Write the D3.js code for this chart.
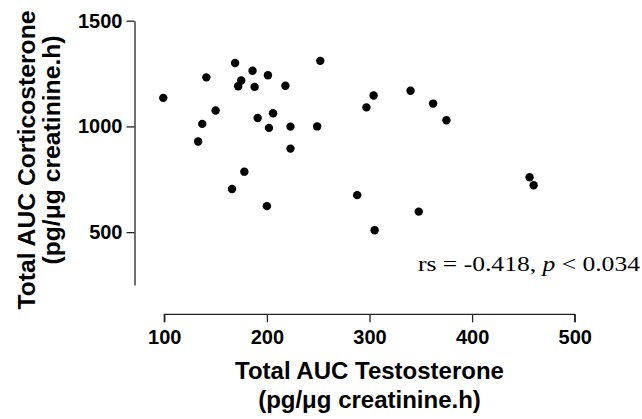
<!DOCTYPE html>
<html>
<head>
<meta charset="utf-8">
<script src="https://cdn.jsdelivr.net/npm/d3@7"></script>
<style>
  body { margin: 0; background: #fff; }
  svg { display: block; }
</style>
</head>
<body>
<svg id="chart" width="642" height="419"></svg>
<script>
// Total AUC testosterone (x) against total AUC corticosterone (y), one point per animal
const testosterone = [
  99, 141, 169, 186, 201, 175, 172, 188, 218, 252,
  304, 297, 150, 137, 133, 191, 206, 202, 223, 249,
  223, 178, 166, 200, 288, 305, 340, 362, 375, 456,
  460, 348
]
const corticosterone = [
  1135, 1232, 1300, 1263, 1242, 1217, 1190, 1187, 1192, 1310,
  1146, 1090, 1075, 1012, 929, 1040, 1062, 993, 999, 1000,
  895, 786, 704, 623, 675, 509, 1169, 1108, 1029, 760,
  722, 597
]
const xTicks = [100, 200, 300, 400, 500]
const yTicks = [500, 1000, 1500]
const xTitle = ['Total AUC Testosterone', '(pg/\u03bcg creatinine.h)']
const yTitle = ['Total AUC Corticosterone', '(pg/\u03bcg creatinine.h)']

const svg = d3.select('#chart')
const sans = 'Liberation Sans, Arial, sans-serif'

// Scales: the two axes are offset from each other, as in the original figure
const x = d3.scaleLinear().domain([100, 500]).range([164.3, 574.7])
const y = d3.scaleLinear().domain([250, 1500]).range([285, 20.7])

// Left axis
const yAxis = svg.append('g')
  .attr('transform', 'translate(134.5,0)')
  .call(d3.axisLeft(y).tickValues(yTicks).tickFormat(d3.format('d'))
    .tickSizeInner(8).tickSizeOuter(0).tickPadding(4))
yAxis.selectAll('path, line').attr('stroke', '#222').attr('stroke-width', 1.3)
yAxis.selectAll('text')
  .attr('fill', '#000')
  .style('font-family', sans)
  .style('font-size', '20px')
  .style('font-weight', 'bold')

// Bottom axis
const xAxis = svg.append('g')
  .attr('transform', 'translate(0,314.3)')
  .call(d3.axisBottom(x).tickValues(xTicks).tickFormat(d3.format('d'))
    .tickSizeInner(8).tickSizeOuter(0).tickPadding(8))
xAxis.select('.domain').attr('d', `M${x(100)},8V0H${x(500)}V8`)
xAxis.selectAll('path, line').attr('stroke', '#222').attr('stroke-width', 1.3)
xAxis.selectAll('text')
  .attr('fill', '#000')
  .style('font-family', sans)
  .style('font-size', '20px')
  .style('font-weight', 'bold')

// Axis titles
const xMid = (x.range()[0] + x.range()[1]) / 2
svg.append('g').selectAll('text')
  .data(xTitle)
  .join('text')
  .attr('x', xMid)
  .attr('y', (d, i) => 379 + i * 29)
  .attr('text-anchor', 'middle')
  .style('font-family', sans)
  .style('font-size', '24px')
  .style('font-weight', 'bold')
  .text(d => d)

// The first line of the y title sits a little lower than the second
svg.append('g').selectAll('text')
  .data(yTitle)
  .join('text')
  .attr('transform', (d, i) => `translate(${35 + i * 25},${i ? 150 : 160}) rotate(-90)`)
  .attr('text-anchor', 'middle')
  .style('font-family', sans)
  .style('font-size', '24.7px')
  .style('font-weight', 'bold')
  .text(d => d)

// Points
svg.append('g').selectAll('circle')
  .data(testosterone.map((t, i) => [t, corticosterone[i]]))
  .join('circle')
  .attr('cx', d => x(d[0]))
  .attr('cy', d => y(d[1]))
  .attr('r', 4.2)
  .attr('fill', '#000')

// Spearman annotation
const note = svg.append('text')
  .attr('x', 418)
  .attr('y', 271)
  .attr('textLength', 222)
  .attr('lengthAdjust', 'spacingAndGlyphs')
  .style('font-family', 'Liberation Serif, Times New Roman, serif')
  .style('font-size', '22px')
note.append('tspan').text('rs = -0.418, ')
note.append('tspan').style('font-style', 'italic').text('p')
note.append('tspan').text(' < 0.034')
</script>
</body>
</html>
